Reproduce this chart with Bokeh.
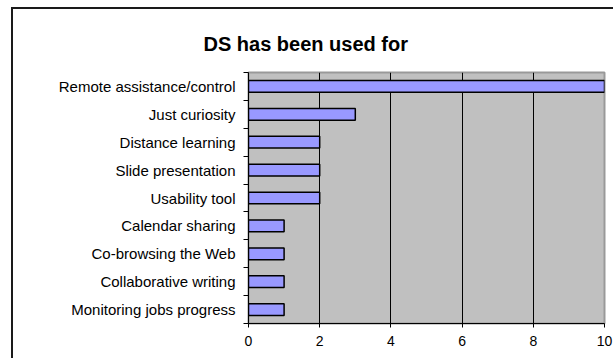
from bokeh.plotting import figure
from bokeh.models import Range1d, FixedTicker
from bokeh.embed import file_html
from bokeh.resources import INLINE

categories = ["Remote assistance/control", "Just curiosity", "Distance learning",
              "Slide presentation", "Usability tool", "Calendar sharing",
              "Co-browsing the Web", "Collaborative writing", "Monitoring jobs progress"]
counts = [10, 3, 2, 2, 2, 1, 1, 1, 1]
x_ticks = [0, 2, 4, 6, 8, 10]

n = len(categories)
# first category drawn at the top, one unit band per category
ypos = [n - i - 0.5 for i in range(n)]
bounds = list(range(n + 1))

FONT = "Liberation Sans"

p = figure(width=602, height=351,
           x_range=Range1d(x_ticks[0], x_ticks[-1]), y_range=Range1d(0, n),
           output_backend="svg", toolbar_location=None,
           min_border_left=235, min_border_right=11,
           min_border_top=63, min_border_bottom=37)
# chart-area border, open at the right and bottom edges of the page
p.margin = (7, 0, 0, 11)
p.styles = {"border-left": "2px solid #1a1a1a", "border-top": "2px solid #1a1a1a"}

p.title.text = "DS has been used for"
p.title.align = "left"
p.title.offset = -45
p.title.standoff = 36
p.title.text_font = FONT
p.title.text_font_size = "20px"
p.title.text_font_style = "bold"
p.title.text_color = "black"

p.background_fill_color = "#c0c0c0"
p.border_fill_color = "white"
p.outline_line_color = "#999999"
p.outline_line_width = 2

p.hbar(y=ypos, left=0, right=counts, height=0.42,
       fill_color="#9999ff", line_color="black", line_width=1.5)

p.ygrid.visible = False
p.xgrid.ticker = FixedTicker(ticks=x_ticks)
p.xgrid.grid_line_color = "black"
p.xgrid.grid_line_width = 1
p.xgrid.grid_line_alpha = 1

xa = p.xaxis[0]
xa.ticker = FixedTicker(ticks=x_ticks)
xa.axis_line_color = "black"
xa.major_tick_line_color = "black"
xa.major_tick_out = 4
xa.major_tick_in = 0
xa.minor_tick_line_color = None
xa.major_label_text_font = FONT
xa.major_label_text_font_size = "14px"
xa.major_label_text_color = "black"
xa.major_label_standoff = 8

ya = p.yaxis[0]
ya.ticker = FixedTicker(ticks=ypos, minor_ticks=bounds)
ya.major_label_overrides = {y: c for y, c in zip(ypos, categories)}
ya.axis_line_color = "black"
ya.major_tick_line_color = None
ya.major_tick_out = 0
ya.major_tick_in = 0
ya.minor_tick_line_color = "black"
ya.minor_tick_out = 5
ya.minor_tick_in = 0
ya.major_label_text_font = FONT
ya.major_label_text_font_size = "15px"
ya.major_label_text_color = "black"
ya.major_label_standoff = 8

open("out.html", "w").write(file_html(p, INLINE))
